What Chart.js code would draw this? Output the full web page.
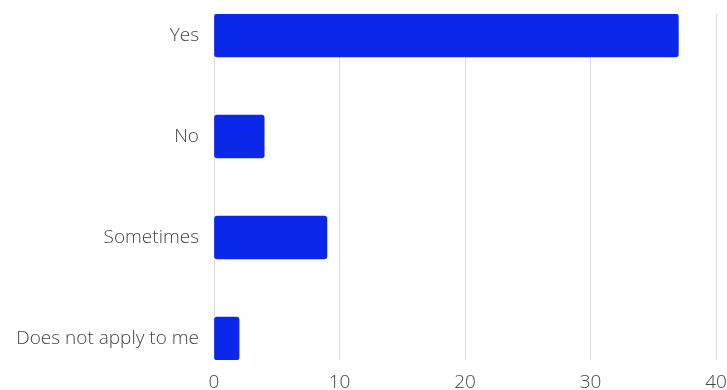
<!DOCTYPE html>
<html>
<head>
<meta charset="utf-8">
<script src="https://cdn.jsdelivr.net/npm/chart.js@4/dist/chart.umd.min.js"></script>
<style>
  html, body { margin: 0; padding: 0; background: #fff; overflow: hidden; }
  canvas { display: block; }
</style>
</head>
<body>
<canvas id="answersChart" width="727" height="390"></canvas>
<script>
// Survey answers
const categories = ['Yes', 'No', 'Sometimes', 'Does not apply to me'];
const responses = [37, 4, 9, 2];
const countTicks = [0, 10, 20, 30, 40];

// Each answer sits on its own row index (0 = top row)
const points = responses.map((v, i) => ({ x: v, y: i }));

const labelFont = { family: '"Open Sans", sans-serif', size: 19, weight: '300' };

// Stop tick labels from pushing the plot area inwards
function noLabelPadding(scale) {
  scale.paddingTop = 0;
  scale.paddingBottom = 0;
  scale.paddingLeft = 0;
  scale.paddingRight = 0;
}

new Chart(document.getElementById('answersChart'), {
  type: 'bar',
  data: {
    datasets: [{
      label: 'Responses',
      data: points,
      backgroundColor: '#0a27ea',
      borderRadius: 3,
      borderSkipped: false,
      barThickness: 43
    }]
  },
  options: {
    indexAxis: 'y',
    responsive: false,
    animation: false,
    layout: {
      autoPadding: false,
      padding: { top: 14, right: 11, left: 0, bottom: 0 }
    },
    plugins: {
      legend: { display: false },
      tooltip: { enabled: false }
    },
    scales: {
      x: {
        type: 'linear',
        min: countTicks[0],
        max: countTicks[countTicks.length - 1],
        afterFit: (scale) => { scale.height = 30; noLabelPadding(scale); },
        afterBuildTicks: (scale) => { scale.ticks = countTicks.map(v => ({ value: v })); },
        border: { display: false },
        grid: { color: '#dadada', lineWidth: 1, drawTicks: false },
        ticks: { color: '#444', font: labelFont, padding: 11, maxRotation: 0 }
      },
      y: {
        type: 'linear',
        reverse: true,
        offset: false,
        min: -0.213,
        max: categories.length - 1 + 0.213,
        afterFit: (scale) => { scale.width = 214; noLabelPadding(scale); },
        afterBuildTicks: (scale) => { scale.ticks = categories.map((c, i) => ({ value: i })); },
        border: { display: false },
        grid: { display: false, drawTicks: false, offset: false },
        ticks: {
          color: '#444',
          font: labelFont,
          padding: 15,
          autoSkip: false,
          callback: (v) => categories[v] ?? ''
        }
      }
    }
  }
});
</script>
</body>
</html>
